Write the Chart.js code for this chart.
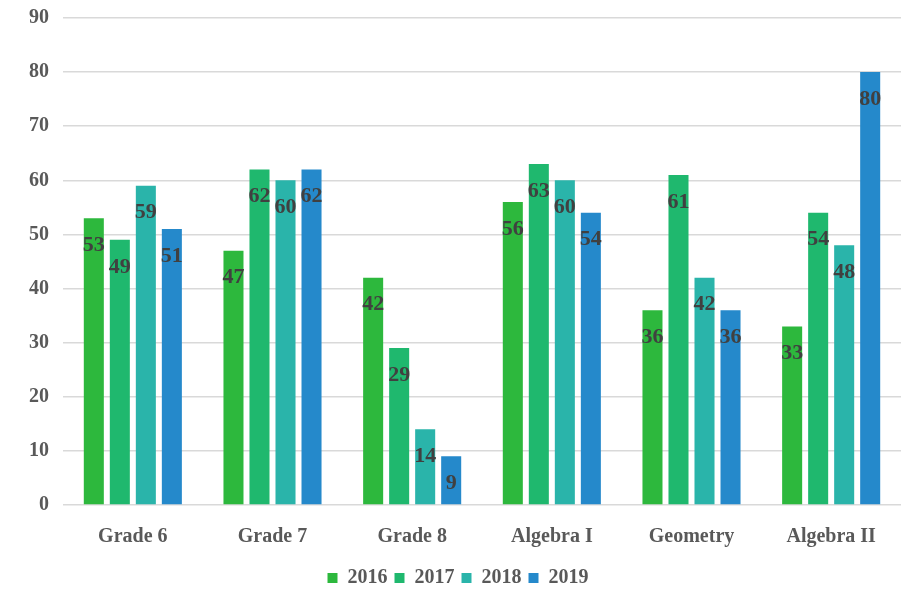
<!DOCTYPE html>
<html>
<head>
<meta charset="utf-8">
<script src="https://cdn.jsdelivr.net/npm/chart.js@4/dist/chart.umd.min.js"></script>
<style>
  body { margin: 0; background: #fff; }
  #wrap { width: 901px; height: 598px; }
</style>
</head>
<body>
<div id="wrap"><canvas id="myChart"></canvas></div>
<script>
const categories = ["Grade 6", "Grade 7", "Grade 8", "Algebra I", "Geometry", "Algebra II"];
const y2016 = [53, 47, 42, 56, 36, 33];
const y2017 = [49, 62, 29, 63, 61, 54];
const y2018 = [59, 60, 14, 60, 42, 48];
const y2019 = [51, 62, 9, 54, 36, 80];

const FONT = "'Liberation Serif', 'DejaVu Serif', serif";

// value labels just inside the top of each bar
const barLabels = {
  id: "barLabels",
  afterDatasetsDraw(chart) {
    const ctx = chart.ctx;
    ctx.save();
    ctx.font = "bold 22px " + FONT;
    ctx.fillStyle = "#404040";
    ctx.textAlign = "center";
    ctx.textBaseline = "middle";
    chart.data.datasets.forEach(function (ds, i) {
      chart.getDatasetMeta(i).data.forEach(function (bar, j) {
        ctx.fillText(ds.data[j], bar.x, bar.y + 27);
      });
    });
    ctx.restore();
  }
};

new Chart("myChart", {
  type: "bar",
  data: {
    labels: categories,
    datasets: [
      { label: "2016", data: y2016, backgroundColor: "#2db83d" },
      { label: "2017", data: y2017, backgroundColor: "#1fb86e" },
      { label: "2018", data: y2018, backgroundColor: "#2ab4aa" },
      { label: "2019", data: y2019, backgroundColor: "#2589cb" }
    ]
  },
  options: {
    responsive: true,
    maintainAspectRatio: false,
    animation: false,
    datasets: { bar: { categoryPercentage: 0.745, barPercentage: 0.77 } },
    layout: { padding: { top: 17, right: 0, left: 15, bottom: 0 } },
    scales: {
      x: {
        grid: { display: false },
        border: { display: false },
        ticks: { color: "#595959", font: { family: FONT, size: 20, weight: "bold" }, padding: 12 }
      },
      y: {
        min: 0, max: 90,
        ticks: { stepSize: 10, color: "#595959", font: { family: FONT, size: 20, weight: "bold", lineHeight: 0.4 }, padding: 14 },
        grid: { color: "#d9d9d9", lineWidth: 1.5, drawTicks: false },
        border: { display: false }
      }
    },
    plugins: {
      legend: {
        position: "bottom",
        labels: { boxWidth: 10, boxHeight: 10, padding: 7, color: "#595959", font: { family: FONT, size: 20, weight: "bold" } }
      },
      tooltip: { enabled: false }
    }
  },
  plugins: [barLabels]
});
</script>
</body>
</html>
